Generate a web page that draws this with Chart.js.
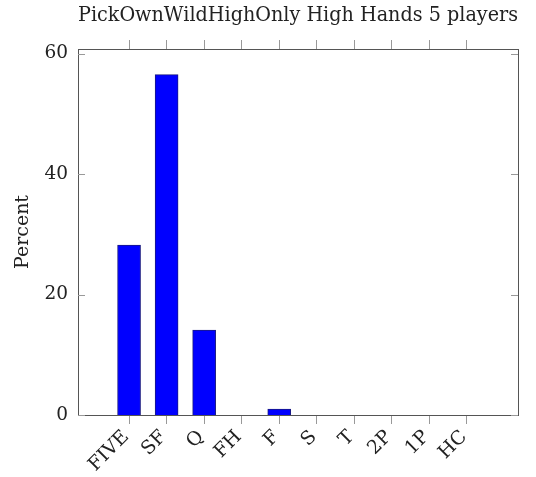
<!DOCTYPE html>
<html>
<head>
<meta charset="utf-8">
<script src="https://cdn.jsdelivr.net/npm/chart.js@4.4.1/dist/chart.umd.min.js"></script>
<style>
  html, body { margin: 0; padding: 0; background: #fff; }
</style>
</head>
<body>
<canvas id="myChart" width="536" height="477"></canvas>
<script>
// hand categories and percent of high hands
var hands = ['FIVE', 'SF', 'Q', 'FH', 'F', 'S', 'T', '2P', '1P', 'HC'];
var percent = [28.2, 56.5, 14.1, 0, 1.0, 0, 0, 0, 0, 0];
var yTicks = [0, 20, 40, 60];

var xMin = -1.36, xMax = 10.36;
var yMax = 60.76;
var axisColor = '#555';
var tickColor = '#999';
var textColor = '#222';

Chart.defaults.font.family = "'DejaVu Serif', serif";
Chart.defaults.color = textColor;

function categoryTicks(scale) {
    scale.ticks = hands.map((h, i) => ({ value: i }));
}

// pgfplots style: short y ticks pointing into the plot on both sides
var innerTicks = {
    id: 'innerTicks',
    afterDraw: function(chart) {
        var ctx = chart.ctx;
        var area = chart.chartArea;
        var y = chart.scales.y;
        ctx.save();
        ctx.strokeStyle = tickColor;
        ctx.lineWidth = 1;
        yTicks.forEach(function(v) {
            var py = Math.round(y.getPixelForValue(v)) + 0.5;
            ctx.beginPath();
            ctx.moveTo(area.left, py);
            ctx.lineTo(area.left + 7, py);
            ctx.moveTo(area.right - 7, py);
            ctx.lineTo(area.right, py);
            ctx.stroke();
        });
        ctx.restore();
    }
};

let ctx = document.getElementById('myChart').getContext('2d');
let myChart = new Chart(ctx, {
    type: 'bar',
    data: {
        datasets: [{
            label: 'Percent',
            data: hands.map((h, i) => ({ x: i, y: percent[i] })),
            backgroundColor: '#0000ff',
            borderColor: '#1a1a80',
            borderWidth: 1,
            barThickness: 23
        }]
    },
    plugins: [innerTicks],
    options: {
        responsive: false,
        animation: false,
        layout: { padding: 0 },
        plugins: {
            legend: { display: false },
            tooltip: { enabled: false },
            title: {
                display: true,
                fullSize: false,
                text: 'PickOwnWildHighOnly High Hands 5 players',
                font: { size: 19.5, weight: 'normal' },
                color: textColor,
                padding: { top: 4, bottom: 0 }
            }
        },
        scales: {
            x: {
                type: 'linear',
                position: 'bottom',
                offset: false,
                min: xMin,
                max: xMax,
                afterBuildTicks: categoryTicks,
                afterFit: function(s) { s.height = 62; },
                grid: { offset: false, drawOnChartArea: false, drawTicks: true, tickLength: 9, color: tickColor },
                border: { display: true, color: axisColor, width: 1 },
                ticks: {
                    autoSkip: false,
                    minRotation: 45,
                    maxRotation: 45,
                    padding: 2,
                    labelOffset: -3,
                    font: { size: 19 },
                    color: textColor,
                    callback: function(value) { return hands[value]; }
                }
            },
            x2: {
                type: 'linear',
                position: 'top',
                offset: false,
                min: xMin,
                max: xMax,
                afterBuildTicks: categoryTicks,
                afterFit: function(s) { s.height = 21.6; },
                grid: { offset: false, drawOnChartArea: false, drawTicks: true, tickLength: 9, color: tickColor },
                border: { display: true, color: axisColor, width: 1 },
                ticks: { display: false }
            },
            y: {
                min: 0,
                max: yMax,
                afterBuildTicks: function(s) { s.ticks = yTicks.map(v => ({ value: v })); },
                afterFit: function(s) { s.width = 78; },
                grid: { display: false, drawTicks: false },
                border: { display: true, color: axisColor, width: 1 },
                title: {
                    display: true,
                    text: 'Percent',
                    font: { size: 19 },
                    color: textColor,
                    padding: { top: 12, bottom: 0 }
                },
                ticks: {
                    padding: 10,
                    font: { size: 18.5 },
                    color: textColor
                }
            },
            y2: {
                position: 'right',
                min: 0,
                max: yMax,
                afterFit: function(s) { s.width = 18; },
                grid: { display: false, drawTicks: false },
                border: { display: true, color: axisColor, width: 1 },
                ticks: { display: false }
            }
        }
    }
});
</script>
</body>
</html>
